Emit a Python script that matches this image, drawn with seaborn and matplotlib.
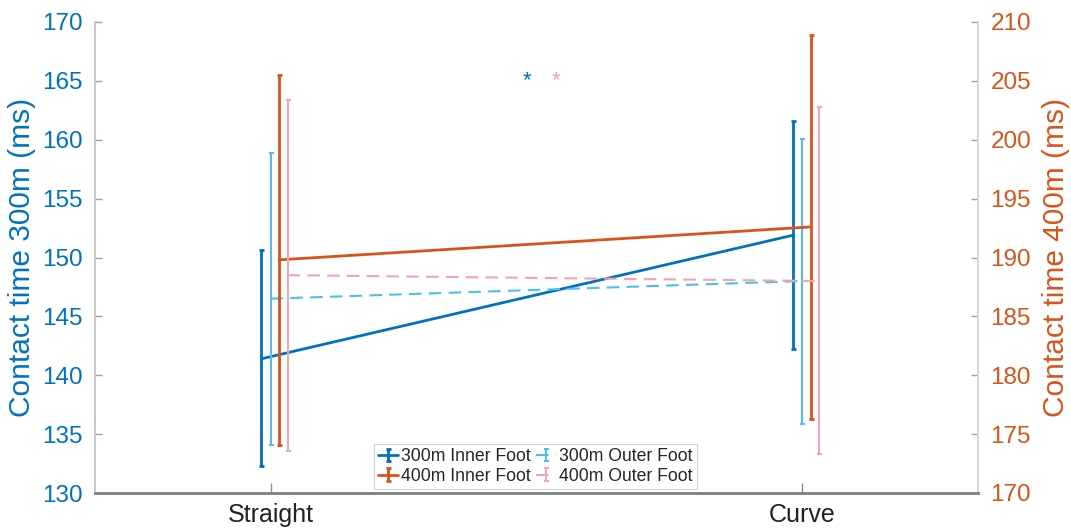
import matplotlib
matplotlib.use("Agg")
import matplotlib.pyplot as plt
from matplotlib.container import ErrorbarContainer
from matplotlib.legend_handler import HandlerErrorbar
import seaborn as sns
import numpy as np

# ---- data ----
categories = ["Straight", "Curve"]
series_names = ["300m Inner Foot", "300m Outer Foot", "400m Inner Foot", "400m Outer Foot"]

inner300_mean = [141.4, 151.9]
inner300_lo = [132.3, 142.2]
inner300_hi = [150.6, 161.6]

outer300_mean = [146.5, 148.0]
outer300_lo = [134.1, 135.9]
outer300_hi = [158.9, 160.1]

inner400_mean = [189.8, 192.6]
inner400_lo = [174.1, 176.3]
inner400_hi = [205.5, 208.9]

outer400_mean = [188.5, 188.0]
outer400_lo = [173.6, 173.3]
outer400_hi = [203.4, 202.8]

left_ticks = [130, 135, 140, 145, 150, 155, 160, 165, 170]
right_ticks = [170, 175, 180, 185, 190, 195, 200, 205, 210]

# ---- style ----
sns.set_theme(style="white")
plt.rcParams["font.family"] = ["Liberation Sans", "DejaVu Sans"]

c_blue = "#0072BD"
c_lblue = "#4DBEEE"
c_orange = "#D95319"
c_pink = "#F4A3AE"

fig = plt.figure(figsize=(10.71, 5.31), dpi=100)
ax = fig.add_axes([95 / 1071, 1 - 493 / 531, (978 - 95) / 1071, (493 - 22) / 531])
ax2 = ax.twinx()

base = np.arange(1, len(categories) + 1)
dashed = (0, (6, 3.5))

specs = [
    (ax, inner300_mean, inner300_lo, inner300_hi, c_blue, "-", 2.0, 2.0, -0.017, series_names[0]),
    (ax, outer300_mean, outer300_lo, outer300_hi, c_lblue, dashed, 1.5, 1.4, 0.0, series_names[1]),
    (ax2, inner400_mean, inner400_lo, inner400_hi, c_orange, "-", 2.0, 2.0, 0.016, series_names[2]),
    (ax2, outer400_mean, outer400_lo, outer400_hi, c_pink, dashed, 1.5, 1.4, 0.032, series_names[3]),
]

handles = {}
for a, m, lo, hi, col, ls, lw, elw, off, name in specs:
    xs = base + off
    m = np.array(m); lo = np.array(lo); hi = np.array(hi)
    sns.lineplot(x=xs, y=m, ax=a, color=col, linestyle=ls, linewidth=lw, legend=False)
    line = a.lines[-1]
    eb = a.errorbar(xs, m, yerr=[m - lo, hi - m], fmt="none", ecolor=col,
                    elinewidth=elw, capsize=1.8, capthick=elw)
    handles[name] = ErrorbarContainer((line, eb.lines[1], eb.lines[2]),
                                      has_xerr=False, has_yerr=True, label=name)

# asterisks
ax.text(1.483, 165.0, "*", color=c_blue, ha="center", va="center", fontsize=16)
ax.text(1.536, 165.0, "*", color=c_pink, ha="center", va="center", fontsize=16)

# axes
ax.set_xlim(0.67, 2.33)
ax.set_ylim(130, 170)
ax2.set_ylim(170, 210)
ax.set_xticks(base)
ax.set_xticklabels(categories)
ax.set_yticks(left_ticks)
ax2.set_yticks(right_ticks)

ax.set_ylabel("Contact time 300m (ms)", color=c_blue, fontsize=21.5, labelpad=4)
ax2.set_ylabel("Contact time 400m (ms)", color=c_orange, fontsize=21.5, labelpad=8)

ax.tick_params(axis="y", colors="#a0a0a0", labelcolor=c_blue, labelsize=17.5,
               direction="in", length=5, width=1, left=True, pad=9)
ax.tick_params(axis="x", colors="#909090", labelcolor="#222222", labelsize=18,
               direction="in", length=7, width=1, bottom=True, pad=7)
ax2.tick_params(axis="y", colors="#a0a0a0", labelcolor=c_orange, labelsize=17.5,
                direction="in", length=5, width=1, right=True, pad=9)

for a in (ax, ax2):
    a.spines["top"].set_visible(False)
    a.spines["left"].set_color("#c8c8c8")
    a.spines["right"].set_color("#d8d8d8")
    a.spines["bottom"].set_color("#858585")
    a.spines["bottom"].set_linewidth(2.0)
    a.grid(False)

order = [series_names[0], series_names[2], series_names[1], series_names[3]]
leg = ax2.legend([handles[n] for n in order], order, ncol=2, loc="lower center",
                 bbox_to_anchor=(0.499, 0.008), fontsize=12.7, frameon=True,
                 fancybox=False, framealpha=1, edgecolor="#d0d0d0",
                 handlelength=1.1, handletextpad=0.2, columnspacing=0.3,
                 labelspacing=0.15, borderpad=0.25, borderaxespad=0,
                 handler_map={ErrorbarContainer: HandlerErrorbar(xerr_size=0.5, yerr_size=0.36)})
leg.get_frame().set_linewidth(0.8)

fig.savefig("out.png", dpi=100)
